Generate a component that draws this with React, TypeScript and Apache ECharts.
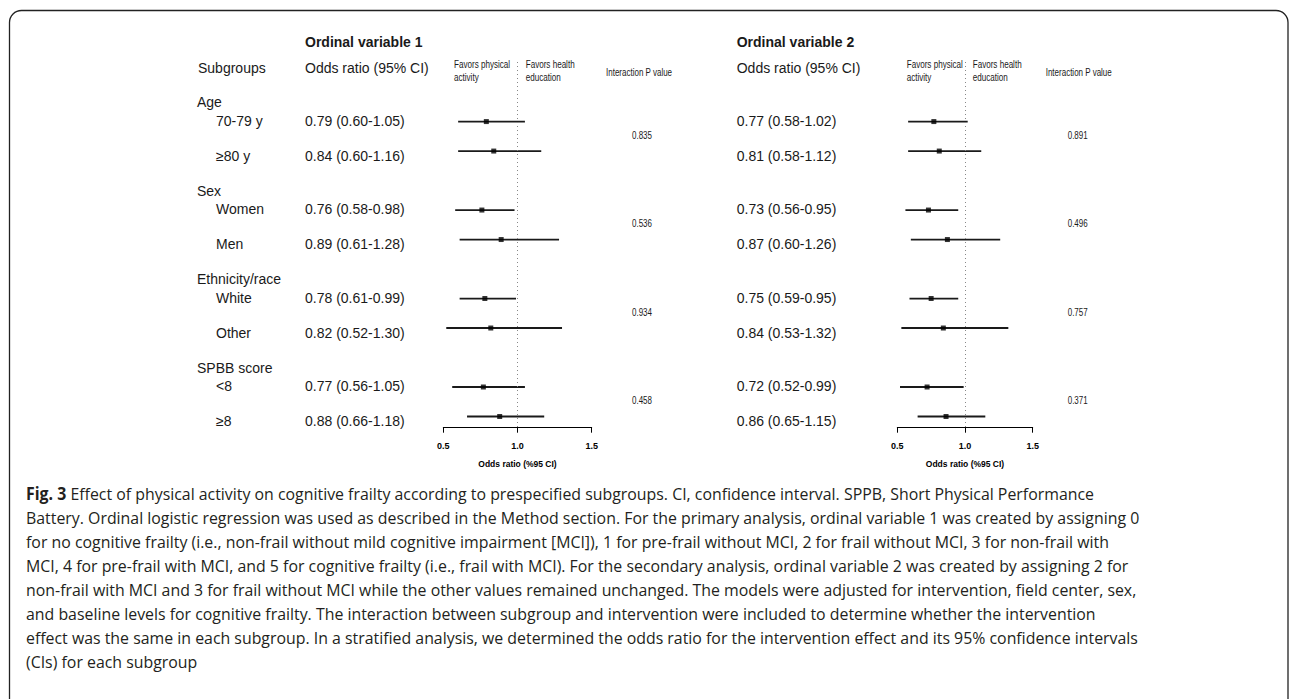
import React, { useEffect, useRef } from "react";
import * as echarts from "echarts";

// ---------- data ----------
const subgroupHeaders = ["Age", "Sex", "Ethnicity/race", "SPBB score"];
const subgroupLabels = ["70-79 y", "≥80 y", "Women", "Men", "White", "Other", "<8", "≥8"];
const rowPositions = [0, 1, 3, 4, 6, 7, 9, 10];

const or1 = [0.79, 0.84, 0.76, 0.89, 0.78, 0.82, 0.77, 0.88];
const lo1 = [0.6, 0.6, 0.58, 0.61, 0.61, 0.52, 0.56, 0.66];
const hi1 = [1.05, 1.16, 0.98, 1.28, 0.99, 1.3, 1.05, 1.18];
const pInteraction1 = ["0.835", "0.536", "0.934", "0.458"];

const or2 = [0.77, 0.81, 0.73, 0.87, 0.75, 0.84, 0.72, 0.86];
const lo2 = [0.58, 0.58, 0.56, 0.6, 0.59, 0.53, 0.52, 0.65];
const hi2 = [1.02, 1.12, 0.95, 1.26, 0.95, 1.32, 0.99, 1.15];
const pInteraction2 = ["0.891", "0.496", "0.757", "0.371"];

const xMin = 0.5;
const xMax = 1.5;
const xInterval = 0.5;
const nullEffect = 1.0;

const panelTitles = ["Ordinal variable 1", "Ordinal variable 2"];
const axisTitle = "Odds ratio (%95 CI)";

const captionLines = [
  "{b|Fig. 3} Effect of physical activity on cognitive frailty according to prespecified subgroups. CI, confidence interval. SPPB, Short Physical Performance",
  "Battery. Ordinal logistic regression was used as described in the Method section. For the primary analysis, ordinal variable 1 was created by assigning 0",
  "for no cognitive frailty (i.e., non-frail without mild cognitive impairment [MCI]), 1 for pre-frail without MCI, 2 for frail without MCI, 3 for non-frail with",
  "MCI, 4 for pre-frail with MCI, and 5 for cognitive frailty (i.e., frail with MCI). For the secondary analysis, ordinal variable 2 was created by assigning 2 for",
  "non-frail with MCI and 3 for frail without MCI while the other values remained unchanged. The models were adjusted for intervention, field center, sex,",
  "and baseline levels for cognitive frailty. The interaction between subgroup and intervention were included to determine whether the intervention",
  "effect was the same in each subgroup. In a stratified analysis, we determined the odds ratio for the intervention effect and its 95% confidence intervals",
  "(CIs) for each subgroup",
];

// ---------- layout ----------
const GRID_TOP = 62;
const GRID_H = 365.7;
const Y_MIN = -2.02;
const Y_MAX = 10.38;
const rowY = (r: number) => GRID_TOP + ((r - Y_MIN) * GRID_H) / (Y_MAX - Y_MIN);

const panels = [
  { gridLeft: 443.3, gridWidth: 148.4, orX: 305, favL: 454, favR: 525.7, pTitleX: 606, pX: 642, or: or1, lo: lo1, hi: hi1, p: pInteraction1 },
  { gridLeft: 897.3, gridWidth: 135.4, orX: 736.7, favL: 906.7, favR: 972.7, pTitleX: 1045.7, pX: 1077.7, or: or2, lo: lo2, hi: hi2, p: pInteraction2 },
];

const SANS = '"Liberation Sans", Arial, sans-serif';
const INK = "#1a1a1a";
const fmt = (v: number) => v.toFixed(2);

function txt(x: number, y: number, text: string, opts: any = {}) {
  return {
    type: "text",
    x,
    y,
    scaleX: opts.scaleX ?? 1,
    silent: true,
    style: {
      text,
      fontSize: opts.fontSize ?? 14,
      fontFamily: opts.fontFamily ?? SANS,
      fontWeight: opts.fontWeight ?? "normal",
      fill: opts.fill ?? INK,
      align: opts.align ?? "left",
      verticalAlign: "middle",
      lineHeight: opts.lineHeight,
      rich: opts.rich,
    },
  };
}

export default function App() {
  const ref = useRef<HTMLDivElement>(null);

  useEffect(() => {
    if (!ref.current) return;
    const chart = echarts.init(ref.current, null, { renderer: "svg" });

    const grids: any[] = [];
    const xAxes: any[] = [];
    const yAxes: any[] = [];
    const series: any[] = [];
    const graphics: any[] = [];

    panels.forEach((pn, i) => {
      grids.push({ left: pn.gridLeft, width: pn.gridWidth, top: GRID_TOP, height: GRID_H });
      xAxes.push({
        gridIndex: i,
        type: "value",
        min: xMin,
        max: xMax,
        interval: xInterval,
        position: "bottom",
        axisLine: { show: true, onZero: false, lineStyle: { color: "#000", width: 1 } },
        axisTick: { show: true, length: 5, lineStyle: { color: "#000", width: 1 } },
        splitLine: { show: false },
        axisLabel: {
          formatter: (v: number) => v.toFixed(1),
          fontWeight: "bold",
          fontSize: 9,
          fontFamily: SANS,
          color: "#000",
          margin: 14,
        },
        name: axisTitle,
        nameLocation: "middle",
        nameGap: 32,
        nameTextStyle: { fontWeight: "bold", fontSize: 8.5, fontFamily: SANS, color: "#000" },
      });
      yAxes.push({ gridIndex: i, type: "value", min: Y_MIN, max: Y_MAX, inverse: true, show: false });

      series.push({
        type: "custom",
        xAxisIndex: i,
        yAxisIndex: i,
        data: rowPositions.map((r, k) => [pn.lo[k], pn.hi[k], r]),
        encode: { x: [0, 1], y: 2 },
        renderItem: (_params: any, api: any) => {
          const a = api.coord([api.value(0), api.value(2)]);
          const b = api.coord([api.value(1), api.value(2)]);
          return {
            type: "line",
            shape: { x1: a[0], y1: a[1], x2: b[0], y2: b[1] },
            style: { stroke: INK, lineWidth: 1.8 },
          };
        },
        silent: true,
      });
      series.push({
        type: "scatter",
        xAxisIndex: i,
        yAxisIndex: i,
        symbol: "rect",
        symbolSize: 5,
        itemStyle: { color: "#000" },
        data: rowPositions.map((r, k) => [pn.or[k], r]),
        silent: true,
        z: 3,
        markLine: {
          silent: true,
          symbol: "none",
          label: { show: false },
          lineStyle: { type: [1, 3], color: "#888", width: 1 },
          data: [{ xAxis: nullEffect }],
        },
      });

      // header texts
      graphics.push(txt(pn.orX, 41.7, panelTitles[i], { fontWeight: "bold" }));
      graphics.push(txt(pn.orX, 68.3, "Odds ratio (95% CI)"));
      graphics.push(txt(pn.favL, 71.5, "Favors physical\nactivity", { fontSize: 10, lineHeight: 13, scaleX: 0.81 }));
      graphics.push(txt(pn.favR, 71.5, "Favors health\neducation", { fontSize: 10, lineHeight: 13, scaleX: 0.81 }));
      graphics.push(txt(pn.pTitleX, 72.7, "Interaction P value", { fontSize: 10, scaleX: 0.8 }));

      // OR texts
      rowPositions.forEach((r, k) => {
        const y = k % 2 === 0 ? rowY(r) - 1 : rowY(r) + 4.5;
        graphics.push(txt(pn.orX, y, `${fmt(pn.or[k])} (${fmt(pn.lo[k])}-${fmt(pn.hi[k])})`));
      });
      // interaction p
      pn.p.forEach((pv, g) => {
        const y = (rowY(rowPositions[g * 2]) + rowY(rowPositions[g * 2 + 1])) / 2 - 1;
        graphics.push(txt(pn.pX, y, pv, { fontSize: 10, scaleX: 0.8, align: "center" }));
      });
    });

    // subgroup column
    graphics.push(txt(198, 68.3, "Subgroups"));
    subgroupHeaders.forEach((h, g) => {
      graphics.push(txt(197, rowY(rowPositions[g * 2]) - 19.5, h));
    });
    rowPositions.forEach((r, k) => {
      const y = k % 2 === 0 ? rowY(r) - 1 : rowY(r) + 4.5;
      graphics.push(txt(216, y, subgroupLabels[k]));
    });

    // caption
    const CAP_FONT = 17;
    const CAP_FAMILY = '"Open Sans", "Noto Sans", sans-serif';
    let capScale = 0.88;
    try {
      const ctx = document.createElement("canvas").getContext("2d");
      if (ctx) {
        ctx.font = `${CAP_FONT}px ${CAP_FAMILY}`;
        const w = ctx.measureText(captionLines[1]).width;
        if (w > 0) capScale = 1114 / w;
      }
    } catch (e) {}
    captionLines.forEach((line, li) => {
      graphics.push(
        txt(26, 493 + li * 24, line, {
          fontSize: CAP_FONT,
          fontFamily: CAP_FAMILY,
          fill: "#231f20",
          scaleX: capScale,
          rich: li === 0 ? { b: { fontWeight: "bold", fontSize: CAP_FONT, fontFamily: CAP_FAMILY, fill: "#231f20" } } : undefined,
        })
      );
    });

    // frame
    graphics.push({
      type: "rect",
      silent: true,
      shape: { x: 9.5, y: 10.5, width: 1278.5, height: 760, r: 12 },
      style: { fill: "none", stroke: "#222", lineWidth: 1.3 },
      z: -1,
    });

    chart.setOption({
      animation: false,
      backgroundColor: "#fff",
      grid: grids,
      xAxis: xAxes,
      yAxis: yAxes,
      series,
      graphic: graphics,
    });

    return () => chart.dispose();
  }, []);

  return <div ref={ref} style={{ position: "absolute", left: 0, top: 0, width: 1290, height: 699 }} />;
}
